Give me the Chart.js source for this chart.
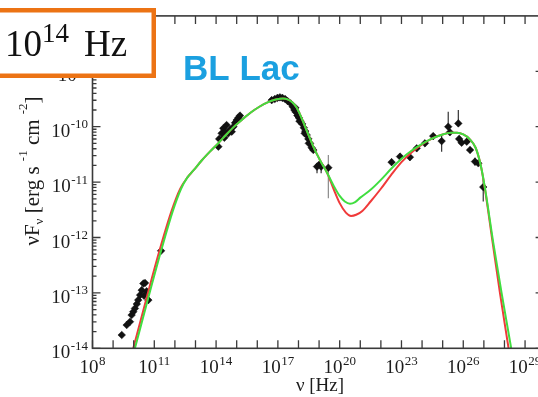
<!DOCTYPE html>
<html>
<head>
<meta charset="utf-8">
<title>BL Lac SED</title>
<script src="https://cdn.jsdelivr.net/npm/chart.js@4.4.1/dist/chart.umd.min.js"></script>
<style>
  html, body { margin: 0; padding: 0; background: #fff; overflow: hidden; width: 538px; height: 397px; }
  #wrap { position: relative; width: 560px; height: 397px; }
  canvas { display: block; }
</style>
</head>
<body>
<div id="wrap"><canvas id="sed" width="560" height="397"></canvas></div>
<script>
// All quantities are log10: frequency nu [Hz] and nu*F_nu [erg s^-1 cm^-2]

// Observed fluxes (radio, IR/optical/UV, X-ray, gamma-ray)
const obsLogNu = [
  9.42, 9.66, 9.82, 9.90, 9.98, 10.06, 10.15, 10.22, 10.31, 10.39, 10.47, 10.50, 10.55, 10.63, 10.71, 11.33,
  14.11, 14.15, 14.27, 14.35, 14.40, 14.45, 14.51, 14.59, 14.68, 14.76, 14.84, 14.92, 15.00, 15.08, 15.16,
  16.70, 16.85, 16.98, 17.10, 17.22, 17.35, 17.48, 17.62, 17.72, 17.80, 17.85, 17.88, 17.95, 18.02, 18.05,
  18.10, 18.18, 18.26, 18.30, 18.33, 18.40, 18.48, 18.50, 18.56, 18.64, 18.72, 18.90, 19.02, 19.10, 19.45,
  22.52, 22.93, 23.41, 23.74, 24.14, 24.54, 24.95, 25.27, 25.35, 25.76, 25.80, 25.92, 26.17, 26.33, 26.57, 26.73, 26.97
];
const obsLogFlux = [
  -13.76, -13.58, -13.52, -13.40, -13.34, -13.28, -13.20, -13.13, -13.04, -12.95, -12.83, -13.05, -12.82, -12.97, -13.13, -12.24,
  -10.36, -10.22, -10.12, -10.03, -10.20, -10.10, -9.97, -10.12, -10.05, -10.09, -10.00, -9.93, -9.88, -9.84, -9.80,
  -9.52, -9.50, -9.48, -9.47, -9.48, -9.50, -9.54, -9.58, -9.64, -9.70, -9.66, -9.74, -9.80, -9.84, -9.90,
  -9.90, -9.95, -10.02, -10.12, -10.08, -10.15, -10.22, -10.30, -10.30, -10.38, -10.42, -10.72, -10.68, -10.72, -10.74,
  -10.64, -10.54, -10.55, -10.39, -10.30, -10.17, -10.26, -10.00, -10.10, -9.94, -10.22, -10.29, -10.27, -10.42, -10.63, -10.66, -11.09
];

// Vertical error bars
const errLogNu   = [18.90, 19.10, 19.45, 22.52, 22.93, 23.41, 23.74, 24.14, 24.54, 24.95, 25.27, 25.35, 25.76, 25.92, 26.33, 26.57, 26.97];
const errLogLow  = [-10.84, -10.84, -11.29, -10.70, -10.60, -10.61, -10.45, -10.36, -10.22, -10.45, -10.05, -10.16, -9.99, -10.35, -10.48, -10.70, -11.35];
const errLogHigh = [-10.72, -10.72, -10.51, -10.58, -10.48, -10.49, -10.33, -10.24, -10.12, -10.14, -9.73, -10.04, -9.70, -10.23, -10.36, -10.56, -10.95];

// SSC model, green
const greenLogNu = [
  9.95, 10.06, 10.7, 11.33, 11.9, 12.3, 12.6, 12.9, 13.3, 13.7, 14.1, 14.5, 14.9, 15.3, 15.7, 16.1, 16.5, 16.9,
  17.25, 17.5, 17.7, 17.9, 18.1, 18.3, 18.5, 18.7, 18.9, 19.1, 19.4, 19.7, 20.0, 20.25, 20.5, 20.75, 21.0, 21.5,
  22.0, 22.5, 23.0, 23.5, 24.0, 24.5, 25.0, 25.4, 25.7, 26.0, 26.3, 26.6, 26.85, 27.05, 27.46, 27.86, 28.35, 28.45
];
const greenLogFlux = [
  -14.15, -14.0, -13.1, -12.24, -11.52, -11.12, -10.92, -10.79, -10.61, -10.45, -10.30, -10.14, -9.99, -9.86, -9.74, -9.64, -9.56, -9.51,
  -9.49, -9.51, -9.56, -9.65, -9.80, -9.98, -10.16, -10.34, -10.50, -10.64, -10.84, -11.06, -11.25, -11.35, -11.39, -11.36, -11.28, -11.14,
  -10.96, -10.76, -10.58, -10.43, -10.31, -10.21, -10.14, -10.11, -10.11, -10.14, -10.22, -10.38, -10.70, -11.10, -12.10, -13.00, -14.05, -14.25
];

// SSC model, red
const redLogNu = [
  9.87, 9.98, 10.62, 11.25, 11.84, 12.26, 12.6, 12.9, 13.3, 13.7, 14.1, 14.5, 14.9, 15.3, 15.7, 16.1, 16.5, 16.9,
  17.25, 17.5, 17.7, 17.9, 18.1, 18.3, 18.5, 18.7, 18.9, 19.1, 19.4, 19.7, 20.0, 20.3, 20.55, 20.8, 21.1, 21.5,
  22.0, 22.5, 23.0, 23.5, 24.0, 24.5, 25.0, 25.4, 25.7, 26.0, 26.3, 26.6, 26.85, 27.05, 27.43, 27.78, 28.2, 28.3
];
const redLogFlux = [
  -14.15, -14.0, -13.1, -12.24, -11.52, -11.12, -10.92, -10.79, -10.61, -10.45, -10.30, -10.14, -9.99, -9.86, -9.74, -9.64, -9.56, -9.51,
  -9.49, -9.51, -9.56, -9.65, -9.80, -9.98, -10.16, -10.34, -10.50, -10.64, -10.84, -11.12, -11.38, -11.55, -11.61, -11.59, -11.52, -11.35,
  -11.12, -10.87, -10.64, -10.46, -10.32, -10.21, -10.14, -10.11, -10.11, -10.14, -10.22, -10.38, -10.70, -11.12, -12.10, -13.00, -14.0, -14.25
];

// Axis ticks (decade exponents)
const xTickExponents = [8, 11, 14, 17, 20, 23, 26, 29];
const yTickExponents = [-14, -13, -12, -11, -10, -9, -8];

const SERIF = '"Liberation Serif", "Times New Roman", serif';
const pairs = (xs, ys) => xs.map((v, i) => ({ x: v, y: ys[i] }));

function drawPower(ctx, exp, x, baseY, align, big, small, rise) {
  ctx.font = big + 'px ' + SERIF;
  const w1 = ctx.measureText('10').width;
  ctx.font = small + 'px ' + SERIF;
  const w2 = ctx.measureText(exp).width;
  const total = w1 + w2 + 0.5;
  const left = align === 'center' ? x - total / 2 : x - total;
  ctx.textAlign = 'left';
  ctx.textBaseline = 'alphabetic';
  ctx.font = big + 'px ' + SERIF;
  ctx.fillText('10', left, baseY);
  ctx.font = small + 'px ' + SERIF;
  ctx.fillText(exp, left + w1 + 0.5, baseY - rise);
}

const errorBars = {
  id: 'errorBars',
  beforeDatasetsDraw(chart) {
    const { ctx, scales: { x, y } } = chart;
    ctx.save();
    ctx.lineWidth = 1.2;
    errLogNu.forEach((v, i) => {
      const px = x.getPixelForValue(v);
      ctx.strokeStyle = v > 19.3 && v < 19.6 ? '#8a8a8a' : '#333';
      ctx.beginPath();
      ctx.moveTo(px, y.getPixelForValue(errLogLow[i]));
      ctx.lineTo(px, y.getPixelForValue(errLogHigh[i]));
      ctx.stroke();
    });
    ctx.restore();
  }
};

const frameAndLabels = {
  id: 'frameAndLabels',
  afterDraw(chart) {
    const { ctx, chartArea: a, scales: { x, y } } = chart;
    ctx.save();
    // frame
    ctx.strokeStyle = '#3a3a3a';
    ctx.lineWidth = 1.6;
    ctx.strokeRect(a.left, a.top, a.right - a.left, a.bottom - a.top);
    // inward ticks
    ctx.lineWidth = 1.3;
    ctx.beginPath();
    for (let n = 8; n <= 29; n++) {
      const px = x.getPixelForValue(n);
      ctx.moveTo(px, a.bottom); ctx.lineTo(px, a.bottom - 8);
      ctx.moveTo(px, a.top); ctx.lineTo(px, a.top + 8);
    }
    for (let n = -14; n < -8; n++) {
      for (let k = 1; k <= 9; k++) {
        const py = y.getPixelForValue(n + Math.log10(k));
        const len = k === 1 ? 8 : 4;
        ctx.moveTo(a.left, py); ctx.lineTo(a.left + len, py);
        ctx.moveTo(a.right, py); ctx.lineTo(a.right - len, py);
      }
    }
    ctx.stroke();

    // tick labels
    ctx.fillStyle = '#1c1c1c';
    xTickExponents.forEach(n => {
      drawPower(ctx, String(n), x.getPixelForValue(n), 373, 'center', 19, 13, 8.5);
    });
    yTickExponents.forEach(n => {
      drawPower(ctx, String(n), a.left - 4.5, y.getPixelForValue(n) + 10, 'right', 19, 13, 8.5);
    });

    // x title
    ctx.font = '19px ' + SERIF;
    ctx.textAlign = 'center';
    ctx.fillText('\u03bd [Hz]', 320, 391);

    // y title, rotated
    ctx.translate(38.5, 171);
    ctx.rotate(-Math.PI / 2);
    const segs = [
      ['\u03bdF', 21, 0], ['\u03bd', 13, 4], [' [erg s ', 21, 0], ['-1', 13, -12],
      [' cm ', 21, 0], ['-2', 13, -12], [']', 21, 0]
    ];
    let tot = 0;
    segs.forEach(s => { ctx.font = s[1] + 'px ' + SERIF; tot += ctx.measureText(s[0]).width; });
    let cx = -tot / 2;
    ctx.textAlign = 'left';
    segs.forEach(s => {
      ctx.font = s[1] + 'px ' + SERIF;
      ctx.fillText(s[0], cx, s[2]);
      cx += ctx.measureText(s[0]).width;
    });
    ctx.restore();

    // source name
    ctx.save();
    ctx.fillStyle = '#1ba0e0';
    ctx.font = 'bold 35px "Liberation Sans", Arial, sans-serif';
    ctx.textAlign = 'left';
    ctx.textBaseline = 'alphabetic';
    ctx.fillText('BL Lac', 183, 80);

    // frequency call-out box
    ctx.fillStyle = '#ffffff';
    ctx.fillRect(-6, 10, 160, 66);
    ctx.strokeStyle = '#ec7314';
    ctx.lineWidth = 4.5;
    ctx.strokeRect(-6, 10.25, 159.75, 65.5);
    ctx.fillStyle = '#111';
    ctx.font = '37px ' + SERIF;
    ctx.fillText('10', 5, 56);
    ctx.font = '27px ' + SERIF;
    ctx.fillText('14', 42, 42);
    ctx.font = '37px ' + SERIF;
    ctx.fillText('Hz', 84, 56);
    ctx.restore();
  }
};

new Chart(document.getElementById('sed'), {
  type: 'scatter',
  data: {
    datasets: [
      {
        label: 'model A',
        data: pairs(greenLogNu, greenLogFlux),
        showLine: true,
        borderColor: '#40de40',
        borderWidth: 2,
        pointRadius: 0,
        cubicInterpolationMode: 'monotone',
        fill: false
      },
      {
        label: 'model B',
        data: pairs(redLogNu, redLogFlux),
        showLine: true,
        borderColor: '#f03a3a',
        borderWidth: 2,
        pointRadius: 0,
        cubicInterpolationMode: 'monotone',
        fill: false
      },
      {
        label: 'data',
        data: pairs(obsLogNu, obsLogFlux),
        pointStyle: 'rectRot',
        pointRadius: 3.8,
        backgroundColor: '#111',
        borderColor: '#111',
        borderWidth: 0.5
      }
    ]
  },
  options: {
    responsive: false,
    animation: false,
    devicePixelRatio: 1,
    layout: { padding: { left: 92.5, right: 16.4, top: 15.9, bottom: 48.7 } },
    scales: {
      x: { type: 'linear', min: 8, max: 29.9, display: false },
      y: { type: 'linear', min: -14, max: -8, display: false }
    },
    plugins: { legend: { display: false }, tooltip: { enabled: false } }
  },
  plugins: [errorBars, frameAndLabels]
});
</script>
</body>
</html>
